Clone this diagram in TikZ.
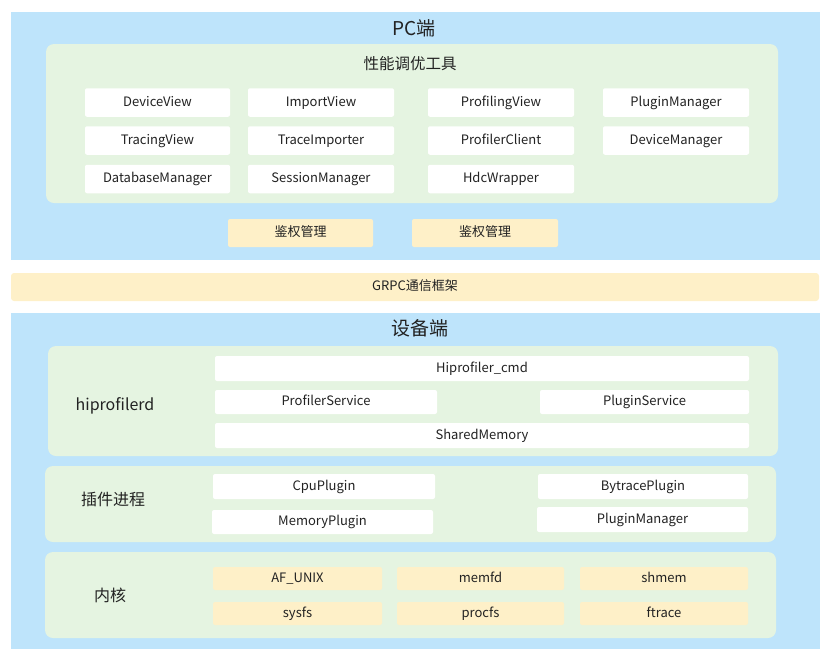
\documentclass[tikz,border=0pt]{standalone}
\usepackage{fontspec}
\setmainfont{Noto Sans CJK SC}
\usepackage{tikz}
\usetikzlibrary{positioning,calc}
\definecolor{sideblue}{RGB}{190,228,251}
\definecolor{groupgreen}{RGB}{229,244,225}
\definecolor{kernelyellow}{RGB}{254,240,200}
\definecolor{textgray}{RGB}{34,34,34}

\begin{document}
\begin{tikzpicture}[x=1pt, y=-1pt, text=textgray,
                    every box/.style = {rectangle, inner sep=0pt, outer sep=0pt},
                    side/.style = {fill=sideblue, every box},
                    group/.style = {fill=groupgreen, rounded corners=8pt, every box},
                    item/.style = {fill=white, rounded corners=2pt, font=\fontsize{13}{15}\selectfont, text height=8pt, text depth=1pt, every box},
                    auth item/.style = {item, fill=kernelyellow},
                    title/.style = {font=\fontsize{19}{22}\selectfont},
                    group title/.style = {font=\fontsize{16}{19}\selectfont}]
                \useasboundingbox (0,0) rectangle (832,659);
                % PC side
                \node at (415.5,136) [side, minimum width=809pt, minimum height=248pt] (pc) {};
                \node at (414,28) [title] (pc title) {PC端};
                \node at (412,123.5) [group, minimum width=732pt, minimum height=159pt] (tool) {};
                \node at (410,64) [group title, font=\fontsize{15.5}{18}\selectfont] (tool title) {性能调优工具};
                % tool modules
                \node at (157.5,102.5) [item, minimum width=145pt, minimum height=28.5pt] (device view) {DeviceView};
                \node at (321,102.5) [item, minimum width=146pt, minimum height=28.5pt] (import view) {ImportView};
                \node at (501,102.5) [item, minimum width=146pt, minimum height=28.5pt] (profiling view) {ProfilingView};
                \node at (676,102.5) [item, minimum width=146pt, minimum height=28.5pt] (plugin manager pc) {PluginManager};
                \node at (157.5,140.5) [item, minimum width=145pt, minimum height=28.5pt] (tracing view) {TracingView};
                \node at (321,140.5) [item, minimum width=146pt, minimum height=28.5pt] (trace importer) {TraceImporter};
                \node at (501,140.5) [item, minimum width=146pt, minimum height=28.5pt] (profiler client) {ProfilerClient};
                \node at (676,140.5) [item, minimum width=146pt, minimum height=28.5pt] (device manager) {DeviceManager};
                \node at (157.5,179) [item, minimum width=145pt, minimum height=28.5pt] (database manager) {DatabaseManager};
                \node at (321,179) [item, minimum width=146pt, minimum height=28.5pt] (session manager) {SessionManager};
                \node at (501,179) [item, minimum width=146pt, minimum height=28.5pt] (hdc wrapper) {HdcWrapper};
                % auth
                \node at (300.5,233) [auth item, minimum width=145pt, minimum height=28pt] (auth left) {鉴权管理};
                \node at (485,233) [auth item, minimum width=146pt, minimum height=28pt] (auth right) {鉴权管理};
                % GRPC bar
                \node at (415,287) [auth item, rounded corners=3pt, minimum width=808pt, minimum height=28pt] (grpc) {GRPC通信框架};
                % device side
                \node at (415.5,481) [side, minimum width=809pt, minimum height=336pt] (device) {};
                \node at (420,328) [title] (device title) {设备端};
                % hiprofilerd
                \node at (413,401) [group, minimum width=730pt, minimum height=110pt] (hiprofilerd) {};
                \node at (115,406) [group title] (hiprofilerd title) {hiprofilerd};
                \node at (482,368.5) [item, minimum width=534pt, minimum height=25pt] (cmd) {Hiprofiler\_cmd};
                \node at (326,402) [item, minimum width=222pt, minimum height=24pt] (profiler service) {ProfilerService};
                \node at (644.5,402) [item, minimum width=209pt, minimum height=24pt] (plugin service) {PluginService};
                \node at (482,435.5) [item, minimum width=534pt, minimum height=25pt] (shared memory) {SharedMemory};
                % plugin process
                \node at (410.5,504) [group, minimum width=731pt, minimum height=76pt] (plugins) {};
                \node at (113,499) [group title] (plugins title) {插件进程};
                \node at (324,486.5) [item, minimum width=222pt, minimum height=25pt] (cpu plugin) {CpuPlugin};
                \node at (322.5,522) [item, minimum width=221pt, minimum height=24pt] (memory plugin) {MemoryPlugin};
                \node at (643,486.5) [item, minimum width=210pt, minimum height=25pt] (bytrace plugin) {BytracePlugin};
                \node at (642.5,519.5) [item, minimum width=211pt, minimum height=25pt] (plugin manager) {PluginManager};
                % kernel
                \node at (410.5,595) [group, minimum width=731pt, minimum height=86pt] (kernel) {};
                \node at (110,595) [group title] (kernel title) {内核};
                \node at (297.5,578.5) [auth item, minimum width=169pt, minimum height=23pt] (af unix) {AF\_UNIX};
                \node at (480.5,578.5) [auth item, minimum width=167pt, minimum height=23pt] (memfd) {memfd};
                \node at (664,578.5) [auth item, minimum width=168pt, minimum height=23pt] (shmem) {shmem};
                \node at (297.5,613.5) [auth item, minimum width=169pt, minimum height=23pt] (sysfs) {sysfs};
                \node at (480.5,613.5) [auth item, minimum width=167pt, minimum height=23pt] (procfs) {procfs};
                \node at (664,613.5) [auth item, minimum width=168pt, minimum height=23pt] (ftrace) {ftrace};
            \end{tikzpicture}
\end{document}
